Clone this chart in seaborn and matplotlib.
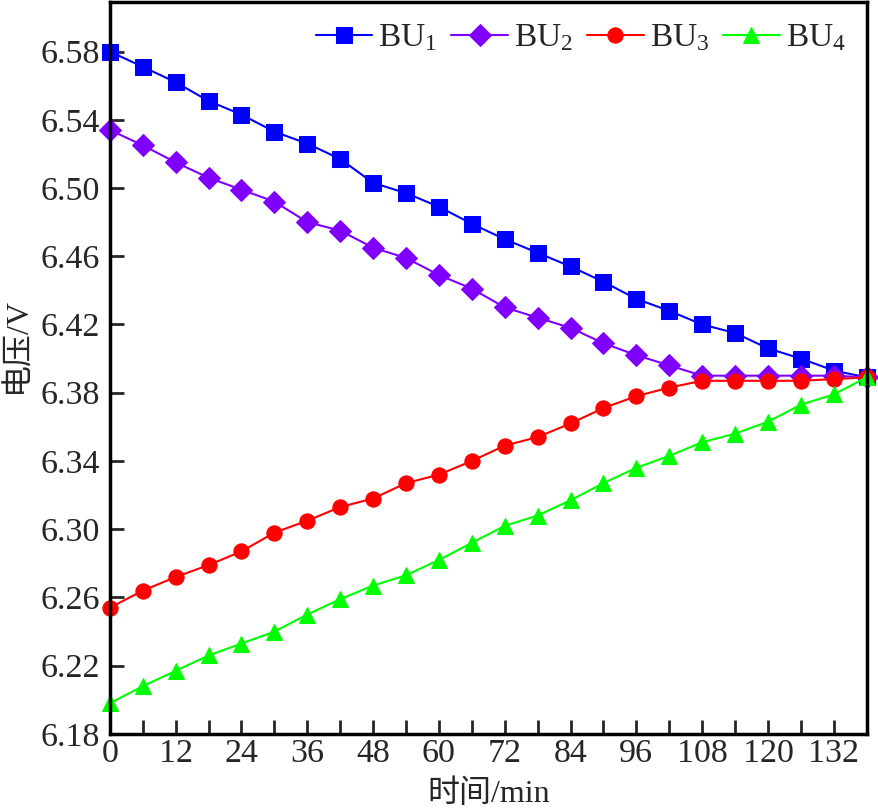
import numpy as np
import pandas as pd
import matplotlib
matplotlib.use('Agg')
import matplotlib.pyplot as plt
import seaborn as sns
from matplotlib.ticker import MultipleLocator, FixedLocator, FormatStrFormatter

# data (every 6 min)
t = list(range(0, 139, 6))
bu1 = [6.580, 6.571, 6.562, 6.551, 6.543, 6.533, 6.526, 6.517, 6.503, 6.497, 6.489, 6.479,
       6.470, 6.462, 6.454, 6.445, 6.435, 6.428, 6.420, 6.415, 6.406, 6.400, 6.393, 6.389]
bu2 = [6.534, 6.525, 6.515, 6.506, 6.499, 6.492, 6.480, 6.475, 6.465, 6.459, 6.449, 6.441,
       6.430, 6.424, 6.418, 6.409, 6.402, 6.396, 6.390, 6.390, 6.390, 6.390, 6.390, 6.389]
bu3 = [6.254, 6.264, 6.272, 6.279, 6.287, 6.298, 6.305, 6.313, 6.318, 6.327, 6.332, 6.340,
       6.349, 6.354, 6.362, 6.371, 6.378, 6.383, 6.387, 6.387, 6.387, 6.387, 6.388, 6.389]
bu4 = [6.198, 6.208, 6.217, 6.226, 6.233, 6.240, 6.250, 6.259, 6.267, 6.273, 6.282, 6.292,
       6.302, 6.308, 6.317, 6.327, 6.336, 6.343, 6.351, 6.356, 6.363, 6.373, 6.379, 6.389]
yticks = [6.18, 6.22, 6.26, 6.30, 6.34, 6.38, 6.42, 6.46, 6.50, 6.54, 6.58]

names = ['BU$_1$', 'BU$_2$', 'BU$_3$', 'BU$_4$']
colors = ['#0000FF', '#8000FF', '#FF0000', '#00FF00']
markers = ['s', 'D', 'o', '^']
msizes = [12, 11, 11, 12]

sns.set_style('ticks')
plt.rcParams['font.family'] = ['Liberation Serif', 'Noto Sans CJK SC']
plt.rcParams['mathtext.fontset'] = 'custom'
plt.rcParams['mathtext.rm'] = 'Liberation Serif'
plt.rcParams['mathtext.it'] = 'Liberation Serif'

fig = plt.figure(figsize=(8.79, 8.11), dpi=100)
ax = fig.add_axes([0.125, 0.095, 0.861, 0.9025])

for name, vals, c, m, ms in zip(names, [bu1, bu2, bu3, bu4], colors, markers, msizes):
    sns.lineplot(x=t, y=vals, ax=ax, color=c, marker=m, markersize=ms,
                 markeredgecolor=c, linewidth=1.5, label=name, clip_on=False)

ax.set_xlim(0, 138)
ax.set_ylim(6.18, 6.609)
ax.xaxis.set_major_locator(MultipleLocator(12))
ax.xaxis.set_minor_locator(MultipleLocator(6))
ax.yaxis.set_major_locator(FixedLocator(yticks))
ax.yaxis.set_major_formatter(FormatStrFormatter('%.2f'))
ax.tick_params(which='both', direction='in', length=10, width=2, labelsize=24.5,
               top=False, right=False)
ax.tick_params(axis='y', pad=7)
ax.tick_params(axis='x', which='both', pad=3)
for s in ax.spines.values():
    s.set_linewidth(2.5)
    s.set_color('black')

ax.set_xlabel('时间/min', fontsize=23, labelpad=8)
ax.set_ylabel('电压/V', fontsize=23)
ax.yaxis.set_label_coords(-0.102, 0.531)

ax.legend(loc='upper right', ncol=4, frameon=False, fontsize=24,
          handlelength=1.7, handletextpad=0.18, columnspacing=0.42,
          borderaxespad=0.0, bbox_to_anchor=(0.99, 0.99))

fig.savefig('out.png', dpi=100)
